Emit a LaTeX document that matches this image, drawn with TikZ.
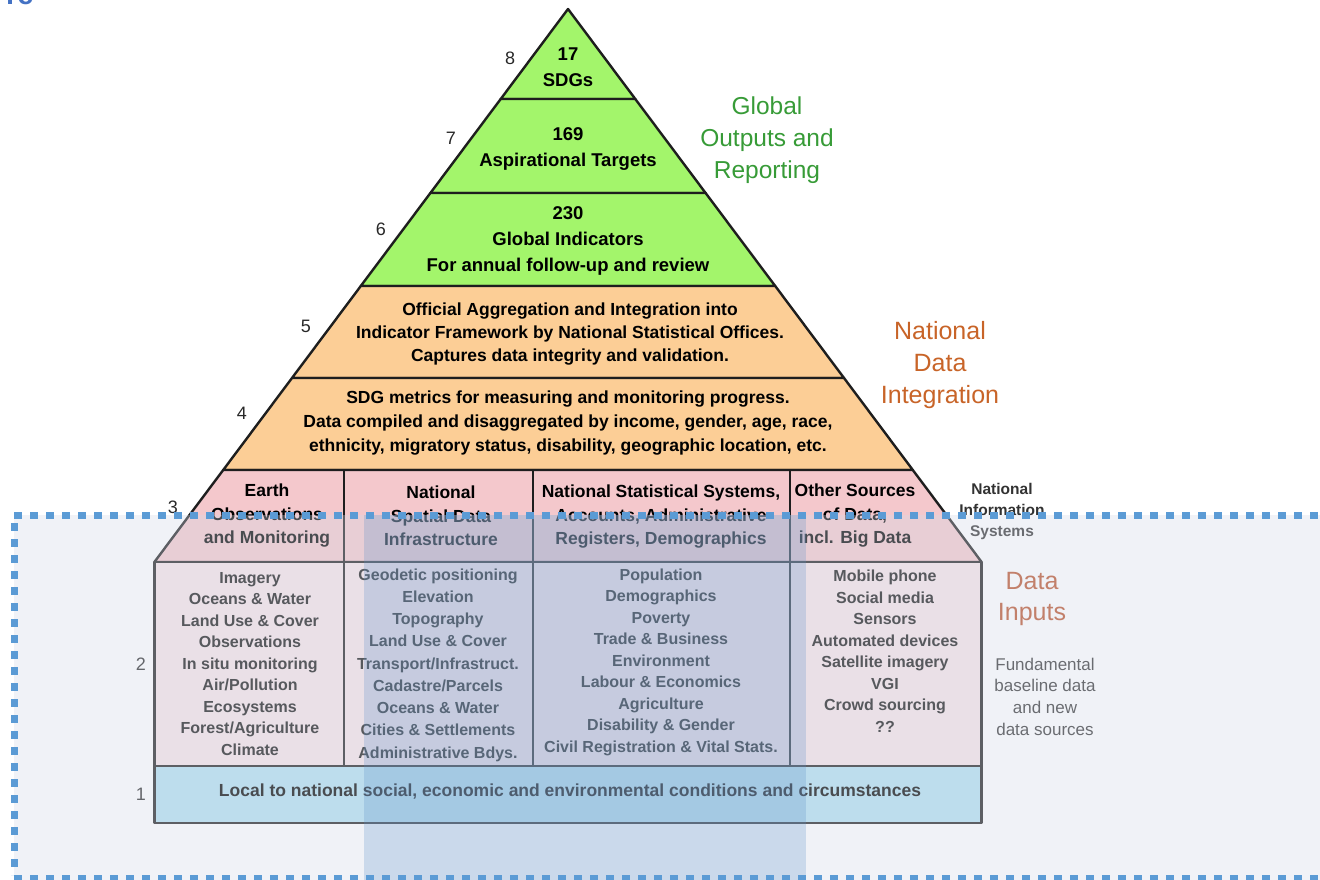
\documentclass[tikz,border=0pt]{standalone}
\usepackage{fontspec}
\setmainfont{Liberation Sans}
\definecolor{lvgreen}{RGB}{163,245,107}
\definecolor{lvorange}{RGB}{252,206,150}
\definecolor{lvpink}{RGB}{244,200,204}
\definecolor{lvpinklight}{RGB}{246,228,231}
\definecolor{lvblue}{RGB}{178,224,240}
\definecolor{edgegray}{RGB}{30,30,30}
\definecolor{greentxt}{RGB}{55,155,55}
\definecolor{orangetxt}{RGB}{200,100,40}
\definecolor{inputtxt}{RGB}{185,80,40}
\definecolor{veil}{RGB}{212,218,232}
\definecolor{colblue}{RGB}{91,143,200}
\definecolor{dashblue}{RGB}{91,155,213}
\definecolor{headblue}{RGB}{68,114,196}
\definecolor{numgray}{RGB}{40,40,40}
\definecolor{listgray}{RGB}{20,20,20}
\definecolor{notegray}{RGB}{50,50,50}
\begin{document}
\begin{tikzpicture}[x=1pt,y=-1pt,
  tier/.style={draw=edgegray, line width=2.4pt, line join=round},
  divider/.style={draw=edgegray, line width=2.4pt},
  toptext/.style={font=\bfseries\fontsize{18.5}{26}\selectfont, align=center, inner sep=0pt, text=black},
  midtext/.style={font=\bfseries\fontsize{17.5}{23.5}\selectfont, align=center, inner sep=0pt, text=black},
  listtext/.style={font=\bfseries\fontsize{16}{21.5}\selectfont, align=center, inner sep=0pt, text=listgray},
  tiernum/.style={font=\fontsize{18}{20}\selectfont, inner sep=0pt, text=numgray},
  sidelabel/.style={font=\fontsize{24.5}{32}\selectfont, align=center, inner sep=0pt},
  sidenote/.style={font=\bfseries\fontsize{15.5}{21}\selectfont, align=center, inner sep=0pt, text=notegray},
  dashline/.style={draw=dashblue, line width=7pt, dash pattern=on 8pt off 8pt}
]
\useasboundingbox (0,0) rectangle (1320,880);
\clip (0,0) rectangle (1320,880);

% heading fragment at the top edge
\node[anchor=base west, inner sep=0pt, font=\bfseries\fontsize{29}{30}\selectfont, text=headblue] (headfrag) at (6,5) {re};

% pyramid tiers
\path[tier, fill=lvgreen] (568,9) -- (635.3,99) -- (500.7,99) -- cycle;
\path[tier, fill=lvgreen] (500.7,99) -- (635.3,99) -- (705.6,193) -- (430.4,193) -- cycle;
\path[tier, fill=lvgreen] (430.4,193) -- (705.6,193) -- (775.2,286) -- (360.8,286) -- cycle;
\path[tier, fill=lvorange] (360.8,286) -- (775.2,286) -- (844,378) -- (292,378) -- cycle;
\path[tier, fill=lvorange] (292,378) -- (844,378) -- (912.8,470) -- (223.2,470) -- cycle;
\path[tier, fill=lvpink] (223.2,470) -- (912.8,470) -- (981.6,562) -- (154.4,562) -- cycle;
\path[tier, fill=lvpinklight] (154.4,562) rectangle (981.6,766);
\path[tier, fill=lvblue] (154.4,766) rectangle (981.6,823);

% column dividers of tiers 3 and 2
\foreach \cx in {344,533,790} {
  \draw[divider] (\cx,470) -- (\cx,766);
}

% tier texts
\node[toptext] (sdgs) at (568,67.5) {17\\SDGs};
\node[toptext] (targets) at (568,149) {169\\Aspirational Targets};
\node[toptext] (indicators) at (568,241) {230\\Global Indicators\\For annual follow-up and review};
\node[midtext, font=\bfseries\fontsize{17.5}{23}\selectfont] (aggregation) at (570,334)
  {Official Aggregation and Integration into\\Indicator Framework by National Statistical Offices.\\Captures data integrity and validation.};
\node[midtext, font=\bfseries\fontsize{17.5}{24}\selectfont] (metrics) at (568,423)
  {SDG metrics for measuring and monitoring progress.\\Data compiled and disaggregated by income, gender, age, race,\\ethnicity, migratory status, disability, geographic location, etc.};

\node[midtext] (earthobs) at (267,516) {Earth\\Observations\\and Monitoring};
\node[midtext] (spatial) at (441,516) {National\\Spatial Data\\Infrastructure};
\node[midtext] (statsys) at (661,517) {National Statistical Systems,\\Accounts, Administrative\\Registers, Demographics};
\node[midtext] (othersrc) at (855,516) {Other Sources\\of Data,\\incl. Big Data};

\node[listtext] (list1) at (250,664) {Imagery\\Oceans \& Water\\Land Use \& Cover\\Observations\\In situ monitoring\\Air/Pollution\\Ecosystems\\Forest/Agriculture\\Climate};
\node[listtext, font=\bfseries\fontsize{16}{22.25}\selectfont] (list2) at (438,665) {Geodetic positioning\\Elevation\\Topography\\Land Use \& Cover\\Transport/Infrastruct.\\Cadastre/Parcels\\Oceans \& Water\\Cities \& Settlements\\Administrative Bdys.};
\node[listtext] (list3) at (661,662) {Population\\Demographics\\Poverty\\Trade \& Business\\Environment\\Labour \& Economics\\Agriculture\\Disability \& Gender\\Civil Registration \& Vital Stats.};
\node[listtext] (list4) at (885,651) {Mobile phone\\Social media\\Sensors\\Automated devices\\Satellite imagery\\VGI\\Crowd sourcing\\??};

\node[midtext] (conditions) at (570,792) {Local to national social, economic and environmental conditions and circumstances};

% tier numbers
\node[tiernum] (n8) at (510,58) {8};
\node[tiernum] (n7) at (451,138) {7};
\node[tiernum] (n6) at (381,229) {6};
\node[tiernum] (n5) at (306,326) {5};
\node[tiernum] (n4) at (242,413) {4};
\node[tiernum] (n3) at (173,507) {3};
\node[tiernum] (n2) at (141,664) {2};
\node[tiernum] (n1) at (141,794) {1};

% group labels on the right
\node[sidelabel, text=greentxt] (global) at (767,140) {Global\\Outputs and\\Reporting};
\node[sidelabel, font=\fontsize{25}{32}\selectfont, text=orangetxt] (national) at (940,365) {National\\Data\\Integration};
\node[sidenote] (infosys) at (1002,511) {National\\Information\\Systems};
\node[sidelabel, font=\fontsize{25}{31}\selectfont, text=inputtxt] (inputs) at (1032,598.5) {Data\\Inputs};
\node[sidenote, font=\fontsize{17}{21.7}\selectfont, text=notegray] (baseline) at (1045,696.5) {Fundamental\\baseline data\\and new\\data sources};

% highlighted lower band with its column and dotted frame
\fill[veil, opacity=0.35] (14,515) rectangle (1330,885);
\fill[colblue, opacity=0.25] (364,515) rectangle (806,885);
\draw[dashline] (14,515.5) -- (1330,515.5);
\draw[dashline] (14,523) -- (14,875);
\draw[dashline] (14,878.5) -- (1330,878.5);
\end{tikzpicture}
\end{document}
